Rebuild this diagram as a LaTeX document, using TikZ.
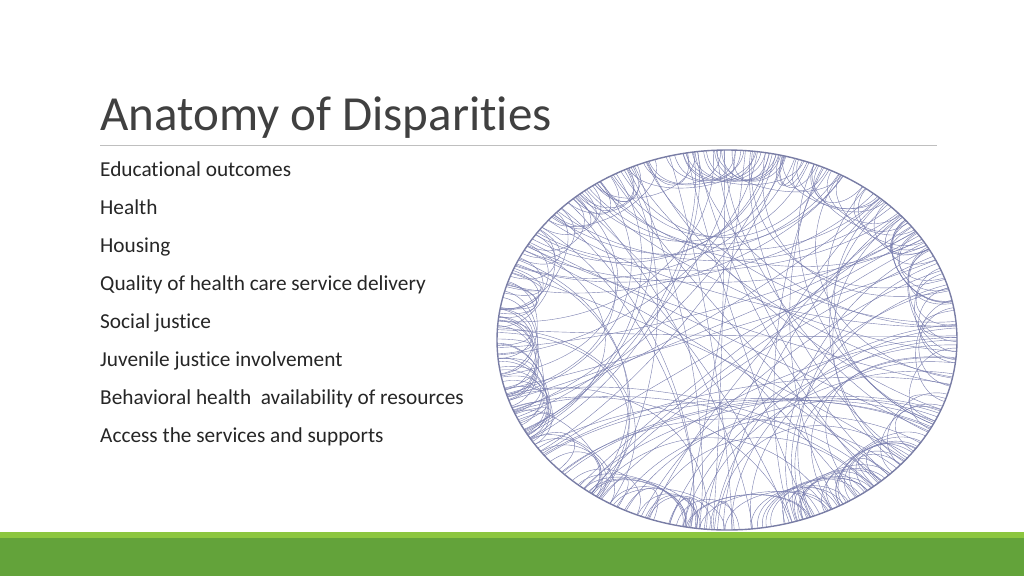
\documentclass[tikz,border=0pt]{standalone}
\usepackage{fontspec}
\setmainfont[RawFeature={-liga;-clig}]{Carlito}
\usetikzlibrary{calc}
\definecolor{lgreen}{HTML}{8CC63F}
\definecolor{dgreen}{HTML}{63A33A}
\definecolor{chordc}{RGB}{120,125,175}
\begin{document}
\begin{tikzpicture}[x=1pt,y=-1pt,
  item/.style={anchor=base west,inner sep=0pt,font=\fontsize{21.3}{24}\selectfont,text=black!85},
  chord/.style={draw=chordc,line width=0.4pt}]
\useasboundingbox (0,0) rectangle (1024,576);
\fill[white] (0,0) rectangle (1024,576);
\node[anchor=base west,inner sep=0pt,font=\fontsize{49}{52}\selectfont,text=black!75] (title) at (100,130) {Anatomy of Disparities};
\draw[black!25,line width=0.8pt] (100,145) -- (937,145);
\foreach \t [count=\k] in {Educational outcomes,Health,Housing,Quality of health care service delivery,Social justice,Juvenile justice involvement,Behavioral health\ \ availability of resources,Access the services and supports}
  \node[item] (i\k) at (100,{176+38*(\k-1)}) {\t};
\fill[lgreen] (0,532) rectangle (1024,538);
\fill[dgreen] (0,538) rectangle (1024,576);
\coordinate (c) at (727,340);
\pgfmathsetseed{7}
\begin{scope}
\clip (c) ellipse [x radius=230, y radius=190];
\foreach \i in {1,...,110}{
  \pgfmathsetmacro\a{rnd*360}
  \pgfmathsetmacro\b{\a+50+rnd*260}
  \draw[chord] ($(c)+(\a:230 and 190)$) .. controls ($(c)+(\a:110 and 90)$) and ($(c)+(\b:110 and 90)$) .. ($(c)+(\b:230 and 190)$);
}
\foreach \i in {1,...,150}{
  \pgfmathsetmacro\a{rnd*360}
  \pgfmathsetmacro\b{\a+4+rnd*30}
  \draw[chord] ($(c)+(\a:230 and 190)$) .. controls ($(c)+(\a:185 and 152)$) and ($(c)+(\b:185 and 152)$) .. ($(c)+(\b:230 and 190)$);
}
\end{scope}
\draw[chordc!80!gray,line width=1.4pt] (c) ellipse [x radius=230, y radius=190];
\end{tikzpicture}
\end{document}
